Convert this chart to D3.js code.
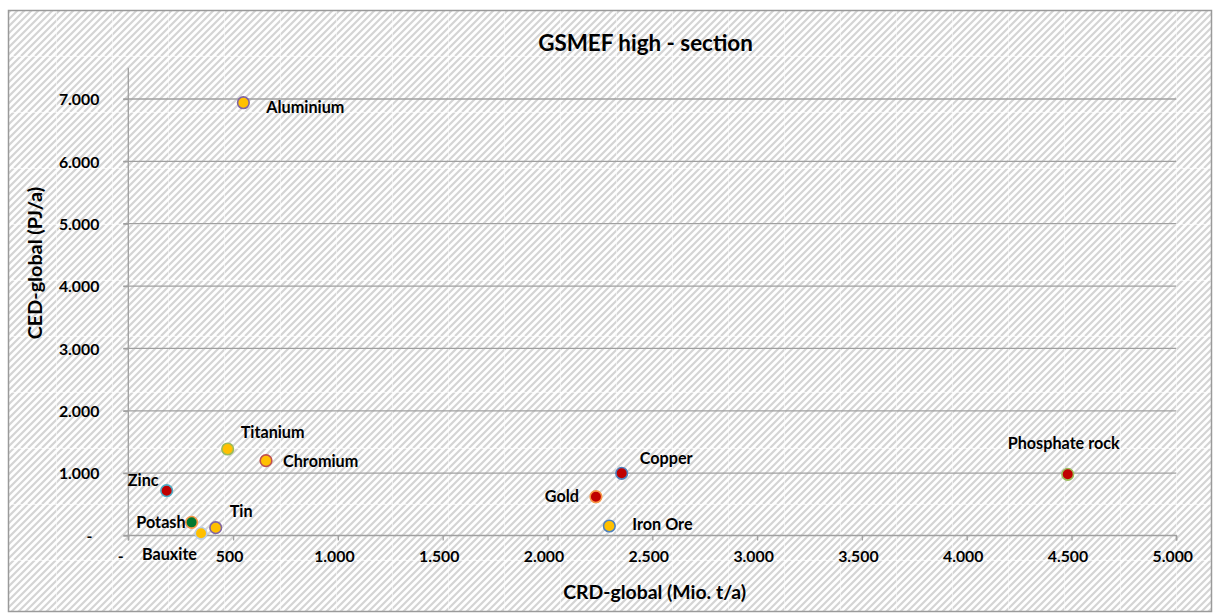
<!DOCTYPE html>
<html><head><meta charset="utf-8">
<script src="https://cdn.jsdelivr.net/npm/d3@7"></script>
<style>
html,body{margin:0;padding:0;background:#fff;}
svg{display:block;font-family:Lato,"Open Sans",sans-serif;font-weight:bold;}
</style></head>
<body>
<svg id="chart" width="1213" height="613"></svg>
<script>
// ---- data ----
const names   = ["Aluminium","Titanium","Chromium","Zinc","Potash","Bauxite","Tin","Copper","Gold","Iron Ore","Phosphate rock"];
const crd     = [549, 474, 657, 183, 302, 347, 417, 2354, 2231, 2295, 4482];
const ced     = [6940, 1387, 1200, 719, 211, 35, 125, 997, 622, 152, 981];
const xTicks  = [0,500,1000,1500,2000,2500,3000,3500,4000,4500,5000];
const yTicks  = [0,1000,2000,3000,4000,5000,6000,7000];
const title   = "GSMEF high - section";
const xTitle  = "CRD-global (Mio. t/a)";
const yTitle  = "CED-global (PJ/a)";

// ---- styles (per point) ----
const fills   = ["#FFC000","#FFC000","#FFC000","#C00000","#00782F","#FFC000","#FFC000","#C00000","#C00000","#FFC000","#C00000"];
const strokes = ["#8064A2","#9BBB59","#C0504D","#4BACC6","#F79646","#B9CDE5","#8064A2","#4F81BD","#F79646","#4F81BD","#9BBB59"];
// label placement (px offset from marker centre, anchor)
const labelPos = [
  [23,10,"start"],[13,-11,"start"],[17,6,"start"],[-8,-5,"end"],[-6,6,"end"],
  [-4,27,"end"],[14,-11,"start"],[18,-9,"start"],[-17,5,"end"],[23,4,"start"],[-4,-25,"middle"]
];

const svg = d3.select("#chart");
const defs = svg.append("defs");
const pat = defs.append("pattern").attr("id","hatch").attr("patternUnits","userSpaceOnUse")
  .attr("width",56).attr("height",56);
pat.append("rect").attr("width",56).attr("height",56).attr("fill","#fff");
for (let k=-56; k<=112; k+=7) {
  pat.append("line").attr("x1",k).attr("y1",56).attr("x2",k+56).attr("y2",0)
    .attr("stroke","#d4d4d4").attr("stroke-width",2.1);
}
pat.append("line").attr("x1",0.5).attr("y1",0).attr("x2",0.5).attr("y2",56).attr("stroke","#fff").attr("stroke-opacity",0.55);
pat.append("line").attr("x1",0).attr("y1",0.5).attr("x2",56).attr("y2",0.5).attr("stroke","#fff").attr("stroke-opacity",0.55);

// chart area
svg.append("rect").attr("x",8.5).attr("y",10.5).attr("width",1203).attr("height",601)
  .attr("fill","url(#hatch)").attr("stroke","#9a9a9a").attr("stroke-width",1.5);

const x = d3.scaleLinear().domain([0,5000]).range([128.3,1176.3]);
const y = d3.scaleLinear().domain([0,7500]).range([535.5,67.8]);

const fmt = v => v===0 ? "-" : d3.format(",")(v).replace(/,/g,".");

// gridlines
svg.append("g").selectAll("line").data(yTicks.filter(v=>v>0)).join("line")
  .attr("x1",x(0)-5).attr("x2",x(5000)).attr("y1",d=>y(d)).attr("y2",d=>y(d))
  .attr("stroke","#a0a0a0").attr("stroke-width",1.3);

// y axis
const yAxis = svg.append("g").attr("transform",`translate(${x(0)},0)`)
  .call(d3.axisLeft(y).tickValues(yTicks).tickFormat(fmt).tickSize(5).tickPadding(24));
yAxis.select(".domain").attr("stroke","#a0a0a0").attr("stroke-width",1.3).attr("d",`M-5,${y(0)}H0V${y(7500)}`);
yAxis.selectAll(".tick line").attr("stroke","#a0a0a0").attr("stroke-width",1.3);
yAxis.selectAll(".tick text").attr("font-size",15.8).attr("font-weight","bold").attr("fill","#000")
  .attr("font-family","Lato").attr("dy","0.36em")
  .attr("dx",d=>d===0?-7:0);

// x axis
const xAxis = svg.append("g").attr("transform",`translate(0,${y(0)})`)
  .call(d3.axisBottom(x).tickValues(xTicks).tickFormat(fmt).tickSize(5).tickPadding(10));
xAxis.select(".domain").attr("stroke","#a0a0a0").attr("stroke-width",1.3).attr("d",`M${x(0)},5V0H${x(5000)}V5`);
xAxis.selectAll(".tick line").attr("stroke","#a0a0a0").attr("stroke-width",1.3);
xAxis.selectAll(".tick text").attr("font-size",15.8).attr("font-weight","bold").attr("fill","#000")
  .attr("font-family","Lato").attr("dy","0.71em")
  .attr("dx",d=>d===0?-8:-4);

// points
const idx = d3.range(names.length);
svg.append("g").selectAll("circle").data(idx).join("circle")
  .attr("cx",i=>x(crd[i])).attr("cy",i=>y(ced[i])).attr("r",5.8)
  .attr("fill",i=>fills[i]).attr("stroke",i=>strokes[i]).attr("stroke-width",1.6);

// labels
svg.append("g").selectAll("text").data(idx).join("text")
  .attr("x",i=>x(crd[i])+labelPos[i][0]).attr("y",i=>y(ced[i])+labelPos[i][1])
  .attr("text-anchor",i=>labelPos[i][2]).attr("font-size",16.2).attr("fill","#000")
  .text(i=>names[i]);

// titles
svg.append("text").attr("x",645.5).attr("y",51).attr("text-anchor","middle")
  .attr("font-size",22.4).text(title);
svg.append("text").attr("x",654.7).attr("y",599).attr("text-anchor","middle")
  .attr("font-size",19.4).text(xTitle);
svg.append("text").attr("transform","translate(42,263) rotate(-90)").attr("text-anchor","middle")
  .attr("font-size",19.8).text(yTitle);
</script>
</body></html>
